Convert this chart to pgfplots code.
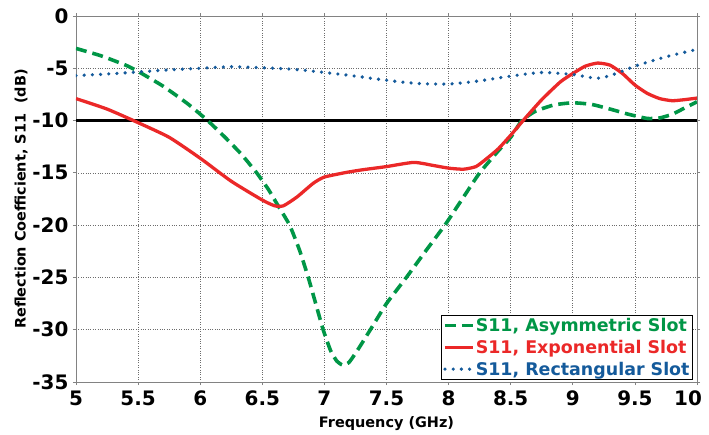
\documentclass[border=0pt]{standalone}
\usepackage{fontspec}
\setmainfont{DejaVu Sans}
\usepackage{pgfplots}
\pgfplotsset{compat=1.18}

\definecolor{asymgreen}{RGB}{0,150,70}
\definecolor{expred}{RGB}{235,40,40}
\definecolor{rectblue}{RGB}{20,90,155}
\definecolor{framegray}{RGB}{130,130,130}

\begin{document}
\begin{tikzpicture}
\begin{axis}[
  scale only axis,
  width=621bp, height=366bp,
  xmin=5, xmax=10, ymin=-35, ymax=0,
  xtick={5,5.5,...,10},
  ytick={-35,-30,...,0},
  xticklabels={5,5.5,6,6.5,7,7.5,8,8.5,9,9.5,\hspace*{-18bp}10},
  /pgf/number format/assume math mode=true,
  tick label style={font=\bfseries\fontsize{20}{21}\selectfont},
  xticklabel style={yshift=-2bp},
  yticklabel style={xshift=-1bp},
  label style={font=\bfseries\fontsize{14.5}{16}\selectfont},
  xlabel={Frequency (GHz)},
  ylabel={Reflection Coefficient, S11\ \ (dB)},
  xlabel style={yshift=-4bp},
  ylabel style={yshift=-2bp},
  axis line style={framegray, line width=0.9pt},
  tick style={framegray, line width=0.8pt},
  tick align=outside,
  major tick length=3bp,
  grid=major,
  major grid style={dotted, gray!85!black, line width=0.7pt},
  legend cell align=left,
  legend style={
    at={(rel axis cs:0.9936,0.0055)}, anchor=south east,
    draw=black, line width=1pt, fill=white,
    font=\bfseries\fontsize{17.5}{21}\selectfont,
    inner xsep=2bp, inner ysep=1bp,
    row sep=3bp,
    nodes={inner xsep=1bp},
  },
  legend image code/.code={\draw[#1] (0bp,0bp) -- (28bp,0bp);},
]

% -10 dB reference level
\addplot[black, line width=3.8pt, forget plot] coordinates {(5,-10) (10,-10)};

% asymmetric slot
\addplot[asymgreen, line width=3.6pt, dash pattern=on 11bp off 6bp, smooth, tension=0.3] coordinates {
(5.0,-3.1) (5.2,-3.8) (5.4,-4.7) (5.5,-5.3) (5.7,-6.7) (5.9,-8.4) (6.06,-10)
(6.2,-11.6) (6.33,-13.2) (6.455,-15) (6.55,-16.6) (6.62,-18.0) (6.72,-20)
(6.8,-22.4) (6.87,-25) (6.93,-27.5) (6.99,-30) (7.05,-32.0) (7.1,-33.0)
(7.15,-33.4) (7.2,-33.1) (7.27,-31.9) (7.37,-30) (7.5,-27.5) (7.66,-25)
(7.82,-22.4) (7.97,-20) (8.11,-17.5) (8.25,-15) (8.4,-12.9) (8.5,-11.6)
(8.59,-10) (8.7,-9.1) (8.85,-8.5) (9.0,-8.3) (9.15,-8.45) (9.3,-8.9)
(9.45,-9.4) (9.6,-9.8) (9.7,-9.75) (9.8,-9.4) (9.9,-8.8) (10,-8.2)
};
\addlegendentry{\textcolor{asymgreen}{S11, Asymmetric Slot}}

% exponential slot
\addplot[expred, line width=3.3pt, smooth, tension=0.35] coordinates {
(5,-7.9) (5.25,-8.9) (5.5,-10.2) (5.75,-11.6) (6.0,-13.6) (6.25,-15.8)
(6.5,-17.6) (6.6,-18.15) (6.67,-18.15) (6.78,-17.3)
(6.91,-16.0) (7.0,-15.4) (7.18,-14.95) (7.31,-14.7) (7.5,-14.4) (7.72,-14.0)
(7.88,-14.3) (8.0,-14.55) (8.12,-14.65) (8.22,-14.4) (8.3,-13.7) (8.4,-12.7)
(8.5,-11.4) (8.6,-10.0) (8.75,-8.0) (8.9,-6.3) (9.0,-5.5) (9.1,-4.8)
(9.2,-4.5) (9.3,-4.7) (9.4,-5.5) (9.5,-6.6) (9.6,-7.4) (9.7,-7.9)
(9.8,-8.1) (9.9,-8.0) (10,-7.85)
};
\addlegendentry{\textcolor{expred}{S11, Exponential Slot}}

% rectangular slot
\addplot[rectblue, line width=3.6pt, line cap=round, dash pattern=on 0bp off 8.2bp, smooth, tension=0.45] coordinates {
(5,-5.7) (5.25,-5.55) (5.5,-5.35) (5.75,-5.15) (6,-5.0) (6.25,-4.85)
(6.5,-4.95) (6.75,-5.1) (7,-5.4) (7.25,-5.75) (7.5,-6.15) (7.75,-6.45)
(8,-6.5) (8.25,-6.2) (8.5,-5.75) (8.75,-5.4) (9.0,-5.6) (9.2,-5.95)
(9.35,-5.5) (9.5,-4.8) (9.75,-3.9) (10,-3.2)
};
\addlegendentry{\textcolor{rectblue}{S11, Rectangular Slot}}

\end{axis}
\pgfresetboundingbox
\path (-76bp,-53bp) rectangle (633bp,382bp);
\end{tikzpicture}
\end{document}
